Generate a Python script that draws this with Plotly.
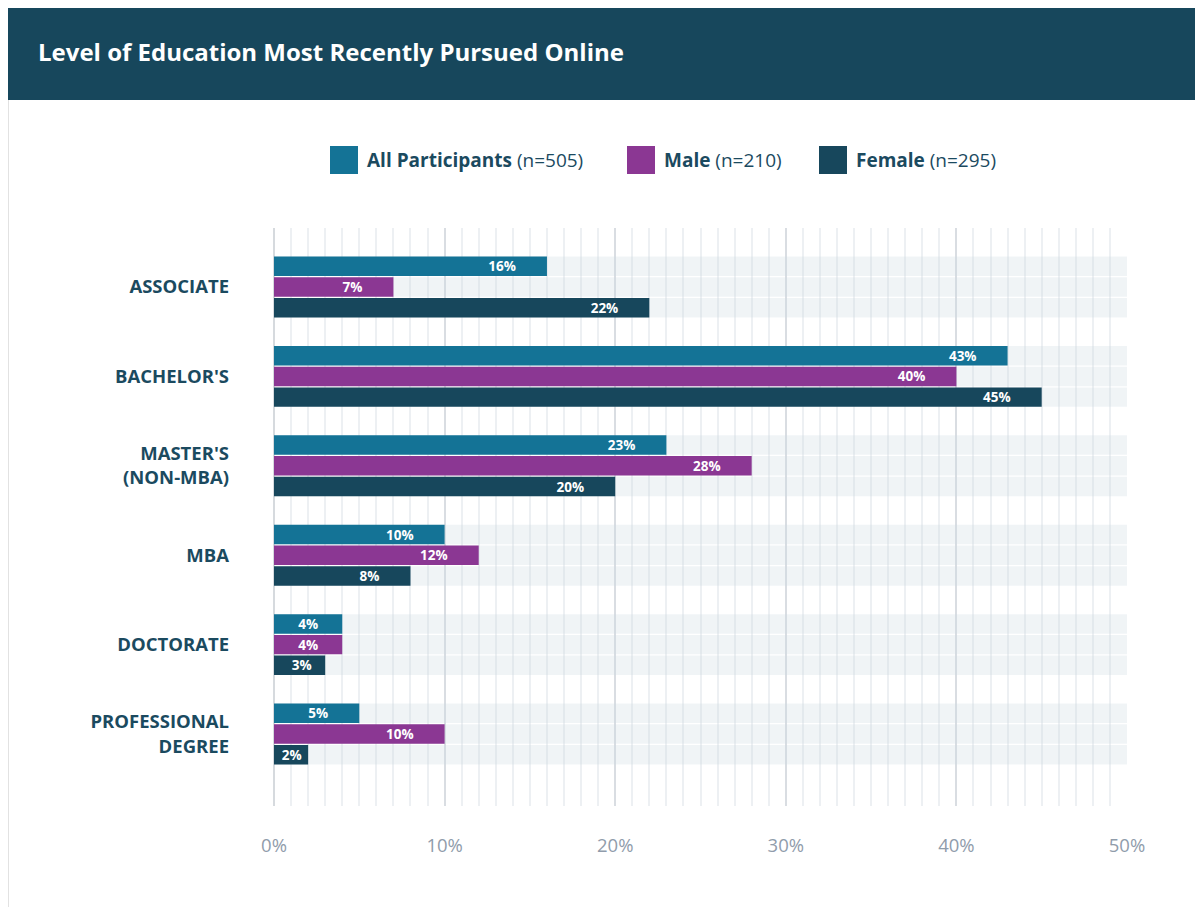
'''
Level of education most recently pursued online - grouped horizontal bars
'''
import plotly.graph_objects as go

levels = ['ASSOCIATE', "BACHELOR'S", "MASTER'S<br>(NON-MBA)", 'MBA', 'DOCTORATE', 'PROFESSIONAL<br>DEGREE']
all_participants = [16, 43, 23, 10, 4, 5]
male = [7, 40, 28, 12, 4, 10]
female = [22, 45, 20, 8, 3, 2]

series_names = ['All Participants', 'Male', 'Female']
series_counts = ['(n=505)', '(n=210)', '(n=295)']
series_colors = ['#147396', '#8b3793', '#17475c']
series_values = [all_participants, male, female]

x_max = 50
x_ticks = [0, 10, 20, 30, 40, 50]
x_ticktext = ['0%', '10%', '20%', '30%', '40%', '50%']

# page has an 8px body margin, so the figure sits at (8, 8)
OFF = 8
W, H = 1203 - OFF, 915 - 2 * OFF
L, R, T = 274 - OFF, 76, 228 - OFF
B = H - (806 - OFF)
px_per_unit = (W - L - R) / x_max
FONT = 'Open Sans'
DARK = '#1b4a5f'


def bar_label(v):
    # pad with nbsp so the label sits a bit left of the bar end (centred on short bars)
    lab = '%d%%' % v
    tw = 7.6 * (len(lab) - 1) + 11.6
    n = int(((v * px_per_unit - tw) / 2 - 3) / 3.5)
    n = max(0, min(8, n))
    return lab + '\u00a0' * n


def px(x):
    # screen x -> paper x
    return (x - OFF - L) / (W - L - R)


def py(y):
    # screen y -> paper y
    return (H - B - (y - OFF)) / (H - T - B)


fig = go.Figure()

# light grey tracks behind every bar
for name in series_names:
    fig.add_trace(go.Bar(y=levels, x=[x_max] * len(levels), orientation='h',
                         offsetgroup=name, marker_color='rgba(205,217,224,0.30)',
                         marker_line_width=0, hoverinfo='skip', showlegend=False))

for name, vals, col in zip(series_names, series_values, series_colors):
    fig.add_trace(go.Bar(y=levels, x=vals, orientation='h', name=name,
                         offsetgroup=name, marker_color=col, marker_line_width=0,
                         text=[bar_label(v) for v in vals], textposition='inside',
                         insidetextanchor='end', constraintext='none',
                         textfont=dict(family=FONT, size=13.5, color='white', weight='bold'),
                         showlegend=False))

fig.update_layout(
    width=W, height=H,
    margin=dict(l=L, r=R, t=T, b=B),
    paper_bgcolor='white', plot_bgcolor='white',
    barmode='group', bargap=0.305, bargroupgap=0.06,
    font=dict(family=FONT),
    title=dict(text='<b>Level of Education Most Recently Pursued Online</b>',
               x=(38 - OFF) / W, y=1 - (53 - OFF) / H, xanchor='left', yanchor='middle',
               font=dict(family=FONT, size=24, color='white')),
)

fig.update_xaxes(range=[0, x_max], tickvals=x_ticks, ticktext=x_ticktext,
                 showgrid=True, gridcolor='#d9dde2', gridwidth=2,
                 zeroline=True, zerolinecolor='#d6dade', zerolinewidth=2,
                 minor=dict(dtick=1, showgrid=True, gridcolor='#edf0f3', gridwidth=2),
                 ticks='', ticklabelstandoff=26,
                 tickfont=dict(family=FONT, size=18.5, color='#909cab'))
fig.update_yaxes(range=[5.805, -0.66], showgrid=False, ticks='',
                 ticklabelstandoff=44,
                 tickfont=dict(family=FONT, size=18.5, color=DARK, weight='bold'))

# header band and left border
fig.add_shape(type='rect', xref='paper', yref='paper', x0=px(7), x1=px(1210), y0=py(100), y1=py(5),
              fillcolor='#17475c', line_width=0, layer='below')
fig.add_shape(type='line', xref='paper', yref='paper', x0=px(8), x1=px(8), y0=py(100), y1=py(920),
              line=dict(color='#e2e2e2', width=2))

# legend with large swatches
legend_sq = [330, 627, 819]
for name, cnt, col, x0 in zip(series_names, series_counts, series_colors, legend_sq):
    fig.add_shape(type='rect', xref='paper', yref='paper', x0=px(x0), x1=px(x0 + 28),
                  y0=py(174), y1=py(146), fillcolor=col, line_width=0)
    fig.add_annotation(xref='paper', yref='paper', x=px(x0 + 35), y=py(160),
                       xanchor='left', yanchor='middle', showarrow=False,
                       text='<b>%s</b> %s' % (name, cnt),
                       font=dict(family=FONT, size=19, color=DARK))

fig.write_html('out.html')
